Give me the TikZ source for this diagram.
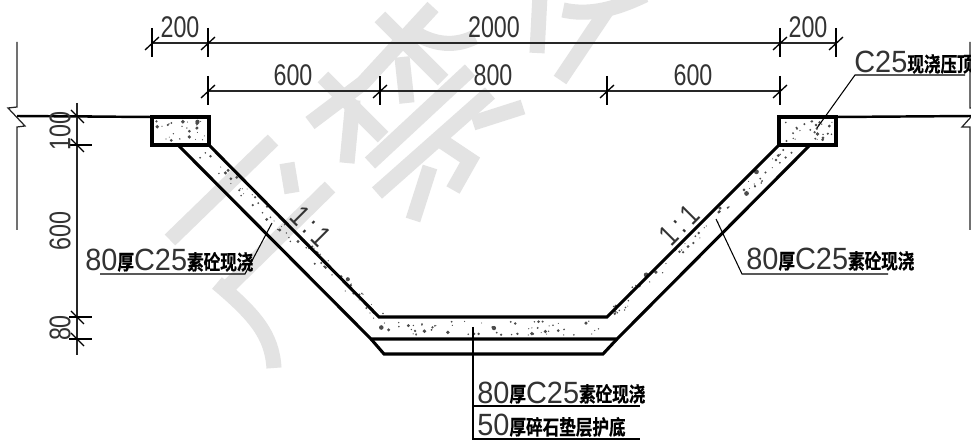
\documentclass[tikz,border=0pt]{standalone}
\usepackage{fontspec}
\usetikzlibrary{calc}
\newfontfamily\cadfont[FakeStretch=0.78]{Liberation Sans}
\newfontfamily\notefont[FakeStretch=0.94]{Liberation Sans}
\newfontfamily\hanfont[FakeStretch=0.8,FakeBold=0.6]{Noto Sans CJK SC Bold}
\newcommand{\cad}[1]{{\fontsize{17.5}{17}\notefont\color{black!80}#1}}
\newcommand{\han}[1]{\raisebox{0.7pt}{\fontsize{11.8}{10}\hanfont #1}}
% speckles in a parallelogram: origin, first edge, second edge, count
\newcommand{\speckle}[7]{%
  \foreach \k in {1,...,#7} {
    \pgfmathsetmacro\pa{rnd}
    \pgfmathsetmacro\pb{rnd}
    \pgfmathsetmacro\pr{0.5+2.0*rnd*rnd}
    \fill[black!70] ({#1+\pa*#3+\pb*#5},{#2+\pa*#4+\pb*#6}) circle[radius=\pr];
  }%
}
\begin{document}
\begin{tikzpicture}[x=0.02cm,y=-0.02cm,  % one unit is one pixel of the reference
    watermark/.style={line width=8.6pt,draw=black!11},
    outline/.style={line width=1.75pt,line join=miter},
    ground/.style={line width=1.4pt},
    dimline/.style={line width=0.6pt,black!85},
    dimtick/.style={line width=0.75pt},
    leader/.style={line width=0.6pt},
    dimtext/.style={inner sep=0pt,font=\fontsize{17}{17}\cadfont,text=black!80},
    label/.style={inner sep=0pt,anchor=base west}
  ]
    \path[use as bounding box,clip] (0,0) rectangle (971,442);
    \fill[white] (0,0) rectangle (971,442);

    % Watermark strokes
    \draw[watermark] (273,140) -- (170,240);
    \draw[watermark] (330,187) -- (225,290);
    \draw[watermark] (287,163) -- (292,193);
    \draw[watermark] (217,283) .. controls (255,315) and (272,335) .. (274,368);
    \draw[watermark] (380,17) -- (443,80);
    \draw[watermark] (415,33) .. controls (435,45) and (455,47) .. (475,37);
    \draw[watermark] (433,7) -- (363,83) -- (310,123);
    \draw[watermark] (402,57) -- (407,103);
    \draw[watermark] (323,77) -- (383,137);
    \draw[watermark] (353,100) -- (347,163);
    \draw[watermark] (470,70) -- (370,163);
    \draw[watermark] (490,93) -- (377,193);
    \draw[watermark] (440,140) -- (470,160) -- (453,190);
    \draw[watermark] (430,167) -- (413,220);
    \draw[watermark] (473,123) -- (523,107);
    \draw[watermark] (540,-5) -- (537,53);
    \draw[watermark] (607,10) -- (560,80);
    \draw[watermark] (563,10) .. controls (585,15) and (610,12) .. (645,-5);

    % Corners of the section
    \coordinate (capLa) at (152,117);
    \coordinate (capLb) at (209,117);
    \coordinate (capLc) at (209,145);
    \coordinate (capLd) at (152,145);
    \coordinate (capRa) at (779,117);
    \coordinate (capRb) at (836,117);
    \coordinate (capRc) at (836,145);
    \coordinate (capRd) at (779,145);
    \coordinate (slopeLo) at (178,145);
    \coordinate (slopeRo) at (810,145);
    \coordinate (floorLa) at (379,317);
    \coordinate (floorRa) at (607,317);
    \coordinate (floorLb) at (371,339);
    \coordinate (floorRb) at (617,339);
    \coordinate (baseL) at (384,354);
    \coordinate (baseR) at (603,354);

    % Speckled concrete
    \pgfmathsetseed{17}
    \speckle{156}{121}{49}{0}{0}{20}{28}
    \speckle{783}{121}{49}{0}{0}{20}{28}
    \speckle{190}{149}{183}{170}{18}{0}{70}
    \speckle{798}{149}{-183}{170}{-18}{0}{70}
    \speckle{384}{321}{222}{0}{-6}{14}{60}

    % Section outline
    \draw[outline] (capLa) -- (capLb) -- (capLc) -- (capLd) -- cycle;
    \draw[outline] (capRa) -- (capRb) -- (capRc) -- (capRd) -- cycle;
    \draw[outline] (capLc) -- (floorLa) -- (floorRa) -- (capRd);
    \draw[outline] (slopeLo) -- (floorLb) -- (floorRb) -- (slopeRo);
    \draw[outline] (floorLb) -- (baseL) -- (baseR) -- (floorRb);

    % Ground and break lines
    \coordinate (breakLa) at (17,42);
    \coordinate (breakLb) at (17,230);
    \coordinate (breakRa) at (970,42);
    \coordinate (breakRb) at (970,230);
    \draw[ground] (17,116) -- (capLa);
    \draw[ground] (capRb) -- (971,116);
    \draw[dimline,line width=0.7pt] (breakLa) -- (17,107) -- (8,108) -- (25,126) -- (17,127) -- (breakLb);
    \draw[dimline,line width=0.7pt] (breakRa) -- (970,108) -- (979,108) -- (962,127) -- (970,127) -- (breakRb);

    % Horizontal dimensions
    \coordinate (dimAa) at (152,43);
    \coordinate (dimAb) at (208,43);
    \coordinate (dimAc) at (780,43);
    \coordinate (dimAd) at (836,43);
    \coordinate (dimBa) at (208,91);
    \coordinate (dimBb) at (380,91);
    \coordinate (dimBc) at (607,91);
    \coordinate (dimBd) at (780,91);
    \draw[dimline] (dimAa) -- (dimAd);
    \draw[dimline] (dimBa) -- (dimBd);
    \foreach \t in {dimAa,dimAb,dimAc,dimAd,dimBa,dimBb,dimBc,dimBd} {
      \draw[dimtick] ([yshift=0.3cm]\t) -- ([yshift=-0.28cm]\t);
      \draw[dimtick] ([shift={(-7,7)}]\t) -- ([shift={(7,-6)}]\t);
    }
    \node[dimtext] (w200a) at (180,27) {200};
    \node[dimtext] (w2000) at (494,27) {2000};
    \node[dimtext] (w200b) at (808,27) {200};
    \node[dimtext] (w600a) at (293,75) {600};
    \node[dimtext] (w800) at (493,75) {800};
    \node[dimtext] (w600b) at (693,75) {600};

    % Vertical dimensions
    \coordinate (dimCa) at (77,116);
    \coordinate (dimCb) at (77,145);
    \coordinate (dimCc) at (77,317);
    \coordinate (dimCd) at (77,339);
    \draw[dimline,line width=0.8pt] (77,103) -- (77,355);
    \foreach \t in {dimCa,dimCb,dimCc,dimCd} {
      \draw[dimtick] ([xshift=-0.16cm]\t) -- ([xshift=0.3cm]\t);
      \draw[dimtick] ([shift={(-6,-6)}]\t) -- ([shift={(7,7)}]\t);
    }
    \node[dimtext,rotate=90] (h100) at (60,131) {100};
    \node[dimtext,rotate=90] (h600) at (60,231) {600};
    \node[dimtext,rotate=90] (h80) at (60,328) {80};

    % Slopes
    \node[dimtext,rotate=-45] (slopeL) at (311,226) {1\,:\,1};
    \node[dimtext,rotate=45] (slopeR) at (679,225) {1\,:\,1};

    % Leaders
    \coordinate (leadAa) at (100,274);
    \coordinate (leadAb) at (245,274);
    \coordinate (leadAc) at (272,223);
    \draw[leader] (leadAa) -- (leadAb) -- (leadAc);
    \node[label] (noteA) at (85,271) {\cad{80}\han{厚}\cad{C25}\han{素砼现浇}};

    \coordinate (leadBa) at (888,274);
    \coordinate (leadBb) at (742,274);
    \coordinate (leadBc) at (716,219);
    \draw[leader] (leadBa) -- (leadBb) -- (leadBc);
    \node[label] (noteB) at (746,270) {\cad{80}\han{厚}\cad{C25}\han{素砼现浇}};

    \coordinate (leadCa) at (965,75);
    \coordinate (leadCb) at (855,75);
    \coordinate (leadCc) at (817,128);
    \draw[leader] (leadCa) -- (leadCb) -- (leadCc);
    \node[label] (noteC) at (854,73) {\cad{C25}\han{现浇压顶}};

    \coordinate (leadDa) at (473,327);
    \coordinate (leadDb) at (473,439);
    \coordinate (leadDc) at (640,439);
    \coordinate (leadDd) at (473,406);
    \coordinate (leadDe) at (640,406);
    \draw[leader] (leadDa) -- (leadDb) -- (leadDc);
    \draw[leader] (leadDd) -- (leadDe);
    \node[label] (noteD) at (477,403) {\cad{80}\han{厚}\cad{C25}\han{素砼现浇}};
    \node[label] (noteE) at (477,436) {\cad{50}\han{厚碎石垫层护底}};

  \end{tikzpicture}
\end{document}
